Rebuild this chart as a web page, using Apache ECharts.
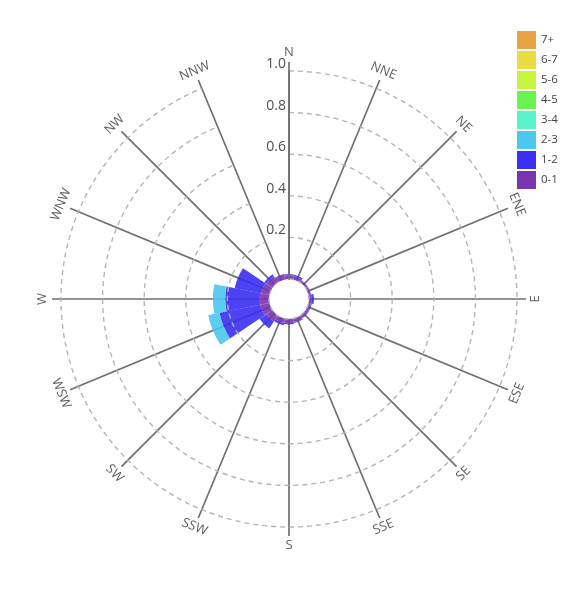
<!DOCTYPE html>
<html><head><meta charset="utf-8">
<script src="https://cdn.jsdelivr.net/npm/echarts@6/dist/echarts.min.js"></script>
<style>html,body{margin:0;padding:0;background:#fff}#c{width:578px;height:600px}</style>
</head><body><div id="c"></div>
<script>
// ---- data ----
const directions = ['N','NNE','NE','ENE','E','ESE','SE','SSE','S','SSW','SW','WSW','W','WNW','NW','NNW'];
const speedBins = ['0-1','1-2','2-3','3-4','4-5','5-6','6-7','7+'];
const speed0to1 = [0.018,0.015,0.010,0.010,0.012,0.012,0.015,0.018,0.020,0.022,0.035,0.045,0.045,0.040,0.035,0.022];
const speed1to2 = [0.006,0.008,0.002,0.002,0.012,0.004,0.002,0.004,0.006,0.010,0.040,0.200,0.165,0.130,0.012,0.004];
const speed2to3 = [0,0,0,0,0,0,0,0,0,0,0,0.055,0.060,0,0,0];
const speed3to4 = [0,0,0,0,0,0,0,0,0,0,0,0,0,0,0,0];
const speed4to5 = [0,0,0,0,0,0,0,0,0,0,0,0,0,0,0,0];
const speed5to6 = [0,0,0,0,0,0,0,0,0,0,0,0,0,0,0,0];
const speed6to7 = [0,0,0,0,0,0,0,0,0,0,0,0,0,0,0,0];
const speed7plus = [0,0,0,0,0,0,0,0,0,0,0,0,0,0,0,0];
const radialTicks = [0.2,0.4,0.6,0.8,1.0];
const compassDeg = [0,22.5,45,67.5,90,112.5,135,157.5,180,202.5,225,247.5,270,292.5,315,337.5];

// ---- styles ----
const binValues = [speed0to1,speed1to2,speed2to3,speed3to4,speed4to5,speed5to6,speed6to7,speed7plus];
const binColors = ['#7a34ad','#3a2ff2','#4ac8ee','#5cf2cb','#69f54f','#c4f53f','#e8de43','#e8a444'];
const font = '"Open Sans", "Liberation Sans", sans-serif';
const CENTER = [289, 299];

const barSeries = speedBins.map((b, k) => ({
  name: b, type: 'bar', coordinateSystem: 'polar', polarIndex: 0,
  stack: 'wind', data: binValues[k], barCategoryGap: '0%',
  itemStyle: { color: binColors[k], opacity: 0.9 },
  emphasis: { disabled: true }, silent: true
}));

function readableRot(deg) {
  let r = (deg >= 90 && deg < 270) ? deg - 180 : (deg > 180 ? deg - 360 : deg);
  return -r;
}

const labelSeries = {
  type: 'scatter', coordinateSystem: 'polar', polarIndex: 1, clip: false,
  symbolSize: 0, silent: true, z: 5,
  data: directions.map((d, i) => ({
    name: d, value: [1.045, d],
    label: { rotate: readableRot(compassDeg[i]) }
  })),
  label: {
    show: true, position: 'inside', formatter: p => p.name,
    color: '#333', fontSize: 13, fontFamily: font
  }
};

const chart = echarts.init(document.getElementById('c'), null, { renderer: 'canvas' });
chart.setOption({
  animation: false,
  backgroundColor: '#fff',
  polar: [
    { center: CENTER, radius: [20, 228] },
    { center: CENTER, radius: [20, 237] }
  ],
  angleAxis: [
    { polarIndex: 0, type: 'category', data: directions, boundaryGap: false, startAngle: 90, clockwise: true,
      axisLine: { show: false }, axisTick: { show: false }, axisLabel: { show: false }, splitLine: { show: false } },
    { polarIndex: 1, type: 'category', data: directions, boundaryGap: false, startAngle: 90, clockwise: true,
      axisLine: { show: false }, axisTick: { show: false }, axisLabel: { show: false },
      splitLine: { show: true, lineStyle: { color: '#707070', width: 1.7 } } }
  ],
  radiusAxis: [
    { polarIndex: 0, type: 'value', min: 0, max: 1, interval: 0.2, z: 3,
      axisLine: { show: true, lineStyle: { color: '#707070', width: 1.7 } },
      axisTick: { show: false },
      axisLabel: { show: true, showMinLabel: false, color: '#505050', fontSize: 14, fontFamily: font,
        margin: 3, verticalAlign: 'bottom',
        formatter: v => radialTicks.some(t => Math.abs(t - v) < 1e-9) ? v.toFixed(1) : '' },
      splitLine: { show: true, showMinLine: false, lineStyle: { color: '#b5b5b5', width: 1.4, type: [5, 4] } } },
    { polarIndex: 1, type: 'value', min: 0, max: 1, show: false }
  ],
  legend: {
    orient: 'vertical', left: 517, top: 31, padding: 0,
    data: speedBins.slice().reverse(),
    icon: 'rect', itemWidth: 19, itemHeight: 18, itemGap: 2,
    itemStyle: { opacity: 1 },
    textStyle: { color: '#444', fontSize: 11.5, fontFamily: font },
    selectedMode: false
  },
  series: [...barSeries, labelSeries]
});
</script>
</body></html>
